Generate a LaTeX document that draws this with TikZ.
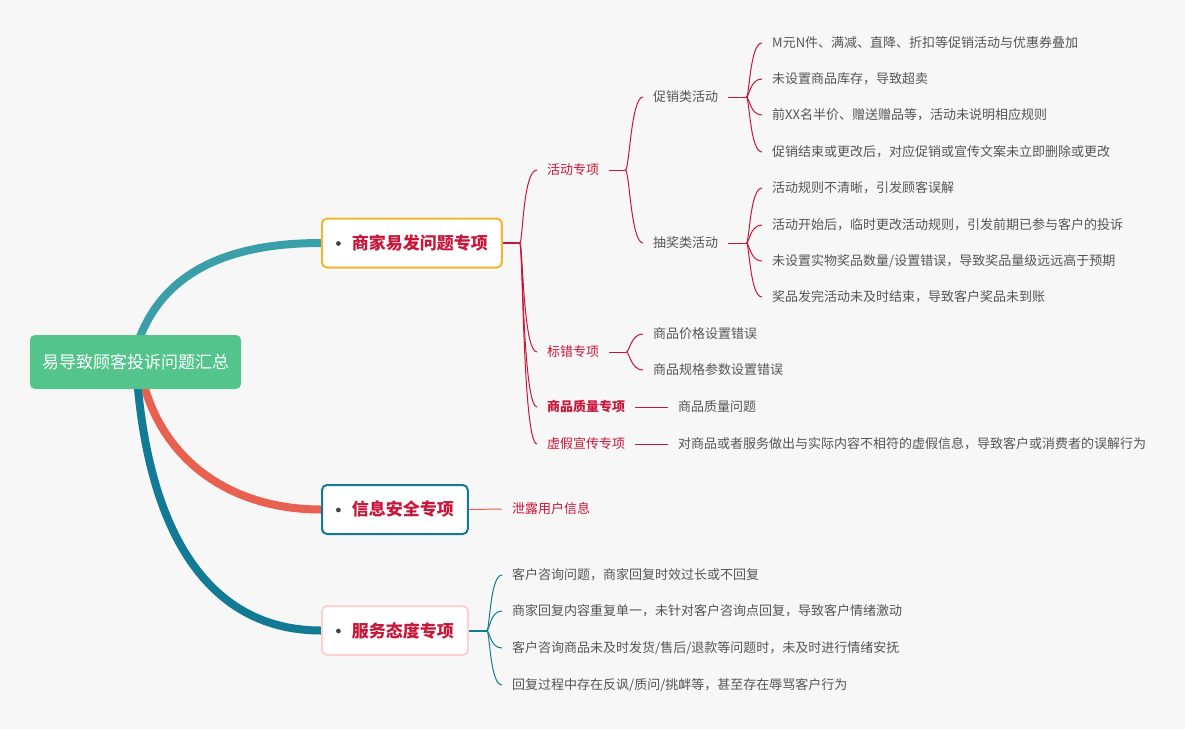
\documentclass[tikz,border=0pt]{standalone}
\usepackage{fontspec}
\setmainfont{Noto Sans CJK SC}
\definecolor{MMBack}{HTML}{F7F7F7}
\definecolor{MMGreen}{HTML}{52C48C}
\definecolor{MMRed}{HTML}{C8173A}
\definecolor{MMGray}{HTML}{555555}
\definecolor{MMDot}{HTML}{444444}
\definecolor{MMYellow}{HTML}{F7B52C}
\definecolor{MMTeal}{HTML}{3A9FA9}
\definecolor{MMOrange}{HTML}{E8604F}
\definecolor{MMDeep}{HTML}{137A95}
\definecolor{MMPink}{HTML}{FFD0D0}
\usepackage{tikz}
\usetikzlibrary{positioning,calc}
\pgfdeclarelayer{back}
\pgfdeclarelayer{links}
\pgfsetlayers{back,links,main}
\newcommand{\topicdot}{\tikz[baseline=-6pt]\fill[MMDot] (0pt,0pt) circle (2.4pt);\hspace{11pt}}

\begin{document}
\begin{tikzpicture}[x=1pt,y=-1pt,
    rootbox/.style={fill=MMGreen, text=white, rounded corners=5pt, minimum width=211pt,
      minimum height=54pt, inner sep=0pt, font=\fontsize{17}{20}\selectfont},
    topicbox/.style={draw=#1, fill=white, line width=2pt, rounded corners=5pt, minimum height=49pt,
      inner xsep=14pt, anchor=west, text=MMRed, font=\fontsize{17}{20}\selectfont\bfseries},
    sublabel/.style={anchor=west, inner xsep=10pt, inner ysep=2pt, text=MMRed, font=\fontsize{13}{15}\selectfont},
    leafnote/.style={anchor=west, inner xsep=10pt, inner ysep=2pt, text=MMGray, font=\fontsize{13}{15}\selectfont},
    branch/.style={draw=#1, line width=8pt},
    twig/.style={draw=#1, line width=1pt},
    stub/.style={draw=#1, line width=2pt},
    fan/.style 2 args={to path={.. controls ($(\tikztostart)+(#1,0)$) and ($(\tikztotarget)+(-#2,0)$) .. (\tikztotarget)}}]
  \useasboundingbox (0,0) rectangle (1185,729);
  \begin{pgfonlayer}{back}
    \fill[MMBack] (0,0) rectangle (1185,729);
  \end{pgfonlayer}

  % root and the three topics
  \node[rootbox] (root) at (135.5,362) {易导致顾客投诉问题汇总};
  \node[topicbox=MMYellow] (shop) at (321,243) {\topicdot 商家易发问题专项};
  \node[topicbox=MMDeep] (info) at (321,509.5) {\topicdot 信息安全专项};
  \node[topicbox=MMPink] (serv) at (321,630.5) {\topicdot 服务态度专项};

  \begin{pgfonlayer}{links}
    \draw[branch=MMTeal] ([xshift=3pt,yshift=-6pt]root.north) to[out=70,in=180] (shop.west);
    \draw[branch=MMOrange] ([xshift=8pt,yshift=6pt]root.south) to[out=-75,in=180] (info.west);
    \draw[branch=MMDeep] ([xshift=2pt,yshift=6pt]root.south)
      to[out=-85,in=180,out distance=170,in distance=100] (serv.west);
  \end{pgfonlayer}

  % merchant topic
  \node[sublabel] (act) at (537,170) {活动专项};
  \node[sublabel] (tag) at (537,352) {标错专项};
  \node[sublabel,font=\fontsize{13}{15}\selectfont\bfseries] (qual) at (537,407) {商品质量专项};
  \node[sublabel] (fake) at (537,444) {虚假宣传专项};
  \draw[stub=MMRed] (shop.east) -- ++(17,0) coordinate (j1);
  \foreach \n in {act,tag,qual,fake}
    \draw[twig=MMRed] (j1) to[fan={3}{14}] (\n.west);

  \node[leafnote] (promo) at (643,97) {促销类活动};
  \node[leafnote] (lottery) at (643,243) {抽奖类活动};
  \draw[twig=MMRed] (act.east) -- ++(16,0) coordinate (j2);
  \foreach \n in {promo,lottery}
    \draw[twig=MMRed] (j2) to[fan={4}{12}] (\n.west);

  \draw[twig=MMRed] (promo.east) -- ++(18,0) coordinate (j3);
  \foreach \y/\t [count=\i] in {43/{M元N件、满减、直降、折扣等促销活动与优惠券叠加},
      79/{未设置商品库存，导致超卖},
      115/{前XX名半价、赠送赠品等，活动未说明相应规则},
      152/{促销结束或更改后，对应促销或宣传文案未立即删除或更改}} {
    \node[leafnote] (pl\i) at (762,\y) {\t};
    \draw[twig=MMRed] (j3) to[fan={3}{12}] (pl\i.west);
  }

  \draw[twig=MMRed] (lottery.east) -- ++(18,0) coordinate (j4);
  \foreach \y/\t [count=\i] in {188/{活动规则不清晰，引发顾客误解},
      225/{活动开始后，临时更改活动规则，引发前期已参与客户的投诉},
      261/{未设置实物奖品数量/设置错误，导致奖品量级远远高于预期},
      297/{奖品发完活动未及时结束，导致客户奖品未到账}} {
    \node[leafnote] (ll\i) at (762,\y) {\t};
    \draw[twig=MMRed] (j4) to[fan={3}{12}] (ll\i.west);
  }

  \draw[twig=MMRed] (tag.east) -- ++(17,0) coordinate (j5);
  \foreach \y/\t [count=\i] in {334/{商品价格设置错误}, 370/{商品规格参数设置错误}} {
    \node[leafnote] (tl\i) at (643,\y) {\t};
    \draw[twig=MMRed] (j5) to[fan={3}{12}] (tl\i.west);
  }

  \node[leafnote] (qualleaf) at (668,407) {商品质量问题};
  \node[leafnote] (fakeleaf) at (668,444) {对商品或者服务做出与实际内容不相符的虚假信息，导致客户或消费者的误解行为};
  \draw[twig=MMRed] (qual.east) -- (qualleaf.west);
  \draw[twig=MMRed] (fake.east) -- (fakeleaf.west);

  % information topic
  \node[sublabel] (leak) at (502,509) {泄露用户信息};
  \draw[twig=MMOrange] (info.east) -- (leak.west);

  % service topic
  \draw[stub=MMDeep] (serv.east) -- ++(18,0) coordinate (j6);
  \foreach \y/\t [count=\i] in {575/{客户咨询问题，商家回复时效过长或不回复},
      611/{商家回复内容重复单一，未针对客户咨询点回复，导致客户情绪激动},
      648/{客户咨询商品未及时发货/售后/退款等问题时，未及时进行情绪安抚},
      685/{回复过程中存在反讽/质问/挑衅等，甚至存在辱骂客户行为}} {
    \node[leafnote] (sl\i) at (502,\y) {\t};
    \draw[twig=MMDeep] (j6) to[fan={3}{12}] (sl\i.west);
  }
\end{tikzpicture}
\end{document}
